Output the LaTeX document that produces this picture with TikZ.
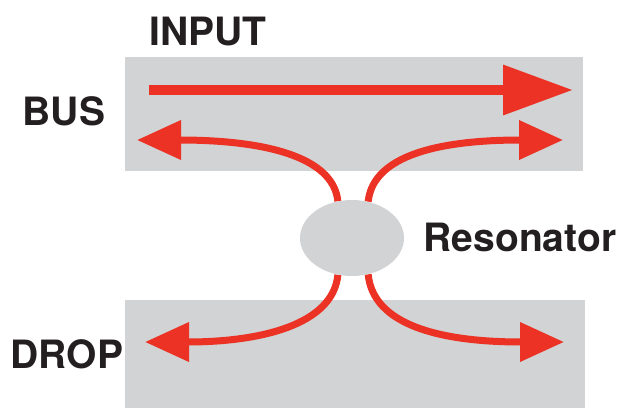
\documentclass[tikz,border=0pt]{standalone}
\usepackage{fontspec}
\setmainfont{TeX Gyre Heros}
\usetikzlibrary{arrows.meta,shapes.geometric}

\definecolor{guidegray}{RGB}{209,211,212}
\definecolor{lightred}{RGB}{236,50,36}
\definecolor{inkblack}{RGB}{35,31,32}

\begin{document}
\begin{tikzpicture}[x=1pt,y=-1pt]

        \useasboundingbox (0,0) rectangle (622,408);

        \fill[guidegray] (125,57)  rectangle (583,171);
        \fill[guidegray] (125,300) rectangle (585,408);

        \node[ellipse, minimum width=104pt, minimum height=76pt, inner sep=0pt] (res) at (352,238) {};

        \begin{scope}[every node/.style={font=\bfseries\fontsize{39}{40}\selectfont, text=inkblack, inner sep=0pt}]
          \node (input) at (208,32)  {INPUT};
          \node (bus)   at (64,111)  {BUS};
          \node (drop)  at (67,354)  {DROP};
          \node (rname) at (520,237) {Resonator};
        \end{scope}

        \coordinate (inL)  at (149,90);
        \coordinate (inR)  at (573,90);
        \coordinate (busL) at (137,140);
        \coordinate (busR) at (563,140);
        \coordinate (drpL) at (145,342);
        \coordinate (drpR) at (564,342);

        \path[draw=lightred, line width=10pt, -{Triangle[length=70pt,width=48pt]}] (inL) -- (inR);

        \begin{scope}[every path/.style={draw=lightred, line width=7pt, -{Triangle[length=44pt,width=38pt]}}]
          \path (res.111)  .. controls (333,155) and (260,140) .. (busL);
          \path (res.66)   .. controls (373,155) and (440,140) .. (busR);
          \path (res.-111) .. controls (333,325) and (260,342) .. (drpL);
          \path (res.-66)  .. controls (373,325) and (440,342) .. (drpR);
        \end{scope}

        \fill[guidegray] (res.center) ellipse (52 and 38);

      \end{tikzpicture}
\end{document}
